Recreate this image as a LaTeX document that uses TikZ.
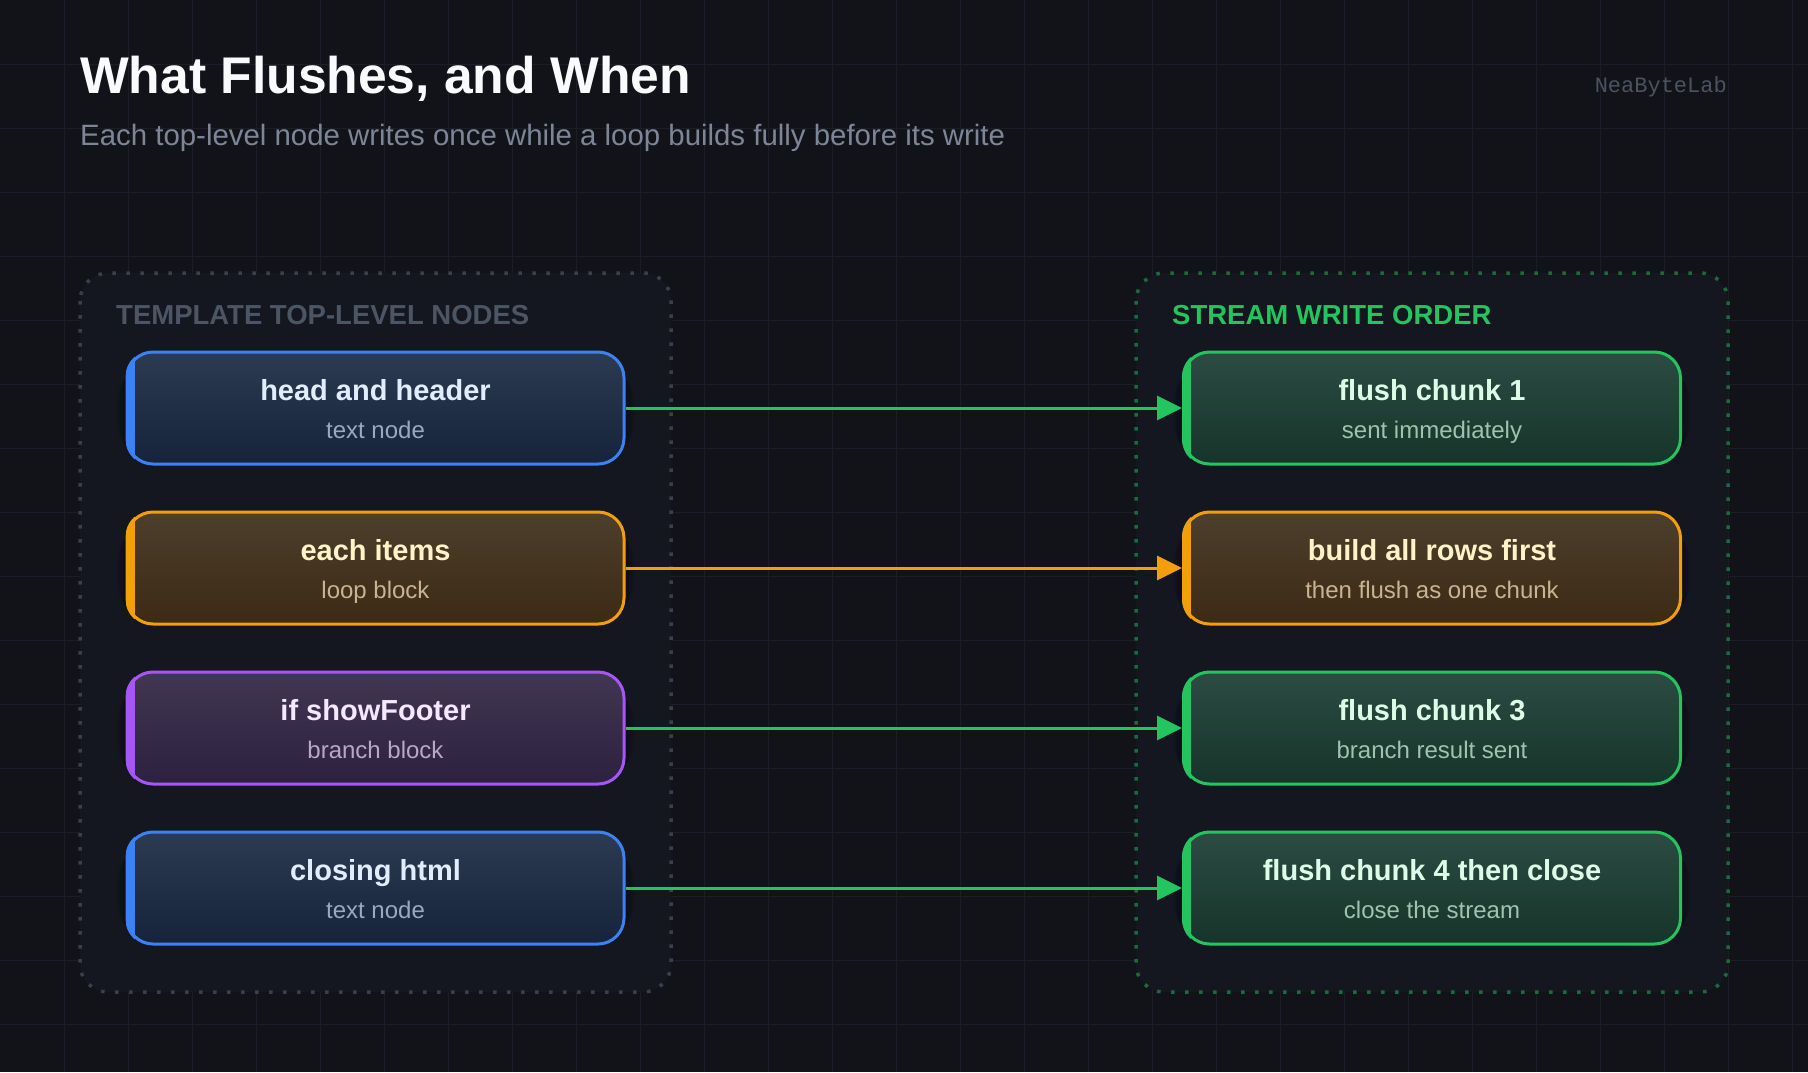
\documentclass[tikz,border=0pt]{standalone}
\usepackage{fontspec}
\setmainfont{Liberation Sans}
\newfontfamily\wmfont{Liberation Mono}
\usetikzlibrary{arrows.meta}

\definecolor{bgc}{HTML}{111318}
\definecolor{gridc}{HTML}{1B1E26}
\definecolor{panelc}{HTML}{141720}
\definecolor{titlec}{HTML}{F8FAFC}
\definecolor{subtc}{HTML}{7D8699}
\definecolor{wmc}{HTML}{4B5261}
\definecolor{lblgray}{HTML}{4B5563}
\definecolor{lblgreen}{HTML}{22C55E}
\definecolor{dotgray}{HTML}{3A3F4A}
\definecolor{dotgreen}{HTML}{1C6A3A}

\definecolor{blueline}{HTML}{3B82F6}
\definecolor{bluetop}{HTML}{2C3B52}
\definecolor{bluebot}{HTML}{16233A}
\definecolor{bluettl}{HTML}{E2ECFF}
\definecolor{bluesub}{HTML}{9AA9C0}

\definecolor{orangeline}{HTML}{F59E0B}
\definecolor{orangetop}{HTML}{4C3F2C}
\definecolor{orangebot}{HTML}{3C2A14}
\definecolor{orangettl}{HTML}{FEF3C7}
\definecolor{orangesub}{HTML}{C8B492}

\definecolor{purpleline}{HTML}{A855F7}
\definecolor{purpletop}{HTML}{403752}
\definecolor{purplebot}{HTML}{2C2140}
\definecolor{purplettl}{HTML}{F3E8FF}
\definecolor{purplesub}{HTML}{B6A8C8}

\definecolor{greenline}{HTML}{22C55E}
\definecolor{greentop}{HTML}{2C4B42}
\definecolor{greenbot}{HTML}{16342A}
\definecolor{greenttl}{HTML}{DCFCE7}
\definecolor{greensub}{HTML}{A0C2AE}

\tikzset{
  gridline/.style={draw=gridc, line width=1pt},
  panelbox/.style={fill=panelc, rounded corners=28pt, line width=3.5pt, dash pattern=on 3.5pt off 10.5pt},
  boxbase/.style={rectangle, rounded corners=26pt, line width=3pt, minimum width=497pt, minimum height=112pt, inner sep=0pt},
  ttl/.style={anchor=base, inner sep=0pt, font=\fontsize{29}{34}\selectfont\bfseries},
  subl/.style={anchor=base, inner sep=0pt, font=\fontsize{24}{29}\selectfont},
  lbl/.style={anchor=base west, inner sep=0pt, font=\fontsize{27.5}{32}\selectfont\bfseries},
  conn/.style={line width=3pt, -{Triangle[length=25pt,width=24pt]}},
}

\newcommand\flowbox[6]{%
  \foreach \sh in {10,7,4}
    \fill[black, opacity=0.10, rounded corners=26pt+\sh pt]
      ([xshift=-\sh pt, yshift=-\sh pt-4pt]#2-248.5,#3-56) rectangle ([xshift=\sh pt, yshift=\sh pt-4pt]#2+248.5,#3+56);
  \node[boxbase, draw=#4line, top color=#4top, bottom color=#4bot] (#1) at (#2,#3) {};
  \begin{scope}
    \clip[rounded corners=26pt] (#1.south west) rectangle (#1.north east);
    \fill[#4line] (#1.south west) rectangle ([xshift=9pt]#1.north west);
  \end{scope}
  \node[ttl, text=#4ttl] (#1t) at ([yshift=8pt]#1.center) {#5};
  \node[subl, text=#4sub] (#1s) at ([yshift=-30pt]#1.center) {#6};
}

\begin{document}
\begin{tikzpicture}[x=1pt, y=-1pt]
\useasboundingbox (0,0) rectangle (1808,1072);
\fill[bgc] (0,0) rectangle (1808,1072);
\foreach \gx in {64,128,...,1792} \draw[gridline] (\gx,0) -- (\gx,1072);
\foreach \gy in {64,128,...,1024} \draw[gridline] (0,\gy) -- (1808,\gy);

% header
\node[anchor=base west, inner sep=0pt, font=\fontsize{51.6}{60}\selectfont\bfseries, text=titlec] (title) at (80,93) {What Flushes, and When};
\node[anchor=base west, inner sep=0pt, font=\fontsize{29.4}{34}\selectfont, text=subtc] (subtitle) at (80,145) {Each top-level node writes once while a loop builds fully before its write};
\node[anchor=base east, inner sep=0pt, font=\wmfont\fontsize{22}{26}\selectfont, text=wmc] (wm) at (1727,92) {NeaByteLab};

% panels
\draw[panelbox, draw=dotgray] (80,273) rectangle (671,992);
\draw[panelbox, draw=dotgreen] (1136,273) rectangle (1728,992);
\node[lbl, text=lblgray] (lblL) at (116,324) {TEMPLATE TOP-LEVEL NODES};
\node[lbl, text=lblgreen] (lblR) at (1172,324) {STREAM WRITE ORDER};

% left column
\flowbox{a1}{375.5}{408}{blue}{head and header}{text node}
\flowbox{a2}{375.5}{568}{orange}{each items}{loop block}
\flowbox{a3}{375.5}{728}{purple}{if showFooter}{branch block}
\flowbox{a4}{375.5}{888}{blue}{closing html}{text node}

% right column
\flowbox{b1}{1432}{408}{green}{flush chunk 1}{sent immediately}
\flowbox{b2}{1432}{568}{orange}{build all rows first}{then flush as one chunk}
\flowbox{b3}{1432}{728}{green}{flush chunk 3}{branch result sent}
\flowbox{b4}{1432}{888}{green}{flush chunk 4 then close}{close the stream}

% connectors
\draw[conn, greenline] (a1.east) -- (b1.west);
\draw[conn, orangeline] (a2.east) -- (b2.west);
\draw[conn, greenline] (a3.east) -- (b3.west);
\draw[conn, greenline] (a4.east) -- (b4.west);
\end{tikzpicture}
\end{document}
